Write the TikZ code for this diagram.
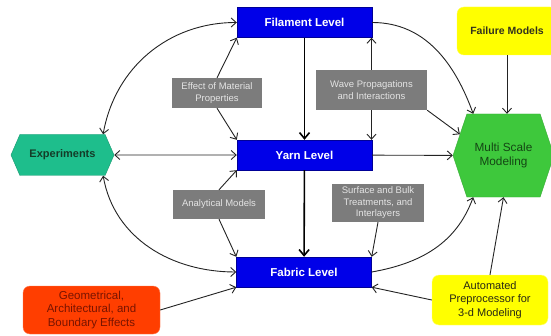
\documentclass[tikz,border=0pt]{standalone}
\usepackage{fontspec}
\setmainfont{Liberation Sans}
\usetikzlibrary{shapes.symbols,arrows.meta,positioning}

\definecolor{lvlblue}{RGB}{0,0,232}
\definecolor{lvledge}{RGB}{0,0,150}
\definecolor{infogray}{RGB}{124,124,124}
\definecolor{infotext}{RGB}{228,228,228}
\definecolor{expteal}{RGB}{30,190,140}
\definecolor{multigreen}{RGB}{62,200,60}
\definecolor{noteyellow}{RGB}{255,255,0}
\definecolor{notered}{RGB}{255,62,0}
\definecolor{linkgray}{RGB}{35,35,35}

\begin{document}
\begin{tikzpicture}[x=1pt,y=1pt,
	barb/.tip={Straight Barb[length=5pt,width=9pt]},
	bigbarb/.tip={Straight Barb[length=6pt,width=10pt]},
	level/.style={draw=lvledge,fill=lvlblue,text=white,
		font=\bfseries\fontsize{11.5}{13}\selectfont,
		minimum width=135pt,minimum height=30pt,inner sep=0pt},
	info/.style={fill=infogray,text=infotext,align=center,
		font=\fontsize{9.5}{11.5}\selectfont,inner sep=1pt},
	note/.style={rounded corners=7pt,align=center,
		font=\fontsize{11.5}{13.5}\selectfont,inner sep=1pt},
	hexa/.style={signal,signal to=east and west,align=center,inner sep=0pt},
	link/.style={draw=linkgray,line width=0.9pt,-barb},
	trunk/.style={draw=black,line width=1.6pt,-bigbarb}]
\useasboundingbox (0,0) rectangle (551,335);
\fill [white] (0,0) rectangle (551,335);
\node [level] (fil) at (304.5,312.5) {Filament Level};
\node [level] (yarn) at (304.5,180) {Yarn Level};
\node [level] (fab) at (304,63) {Fabric Level};
\node [hexa, fill=expteal, draw=expteal!80!black, signal pointer angle=133,
	minimum width=103pt, minimum height=41pt, text={rgb,255:red,20;green,60;blue,40},
	font=\bfseries\fontsize{11}{12}\selectfont] (exp) at (62.5,180) {Experiments};
\node [hexa, fill=multigreen, draw=multigreen!85!black, signal pointer angle=143,
	minimum width=101pt, minimum height=83pt, text={rgb,255:red,20;green,70;blue,20},
	font=\fontsize{11.8}{14.5}\selectfont] (multi) at (503.5,179.5) {Multi Scale\\Modeling};
\node [note, fill=noteyellow, draw=noteyellow!70!white, minimum width=100pt, minimum height=48pt,
	text={rgb,255:red,50;green,50;blue,30}, font=\bfseries\fontsize{10.5}{13}\selectfont] (fail) at (507,304) {Failure Models};
\node [note, fill=noteyellow, draw=noteyellow!50!white, minimum width=116pt, minimum height=50pt,
	text={rgb,255:red,40;green,40;blue,20}, font=\fontsize{11}{13.5}\selectfont] (auto) at (490,35) {Automated\\Preprocessor for\\3-d Modeling};
\node [note, fill=notered, draw=notered!70!white, minimum width=137pt, minimum height=48pt,
	text={rgb,255:red,120;green,20;blue,0}] (geo) at (91.5,25) {Geometrical,\\Architectural, and\\Boundary Effects};
\node [info, minimum width=90pt, minimum height=30pt] (matl) at (217,242) {Effect of Material\\Properties};
\node [info, minimum width=111pt, minimum height=40pt] (wave) at (371.5,245) {Wave Propagations\\and Interactions};
\node [info, minimum width=92pt, minimum height=29pt] (anal) at (219,130.5) {Analytical Models};
\node [info, minimum width=92pt, minimum height=38pt] (surf) at (378,132) {Surface and Bulk\\Treatments, and\\Interlayers};
\draw [trunk] (fil) -- (yarn);
\draw [trunk] (yarn) -- (fab);
\draw [link] (matl.north) -- (fil.south west);
\draw [link] (matl.south) -- (yarn.north west);
\draw [link] (wave.north) -- (wave.north |- fil.south);
\draw [link] (wave.south) -- (wave.south |- yarn.north);
\draw [link] (wave.south east) -- (multi.154);
\draw [link] (anal.north) -- (yarn.south west);
\draw [link] (anal.south) -- (fab.north west);
\draw [link] (surf.south) -- (fab.north east);
\draw [link, barb-barb] (exp) -- (yarn);
\draw [link, barb-barb] (exp.27) to [out=80, in=180] (fil.west);
\draw [link, barb-barb] (exp.-27) to [out=-80, in=180] (fab.west);
\draw [link] (fil.east) to [out=0, in=110] (multi.126);
\draw [link] (fab.east) to [out=10, in=250] (multi.234);
\draw [link] (yarn) -- (multi);
\draw [link] (fail) -- (fail |- multi.north);
\draw [link] (auto.north) -- (multi.south);
\draw [link] (auto.west) -- (fab.south east);
\draw [link] (geo.east) -- (fab.south west);
\end{tikzpicture}
\end{document}
